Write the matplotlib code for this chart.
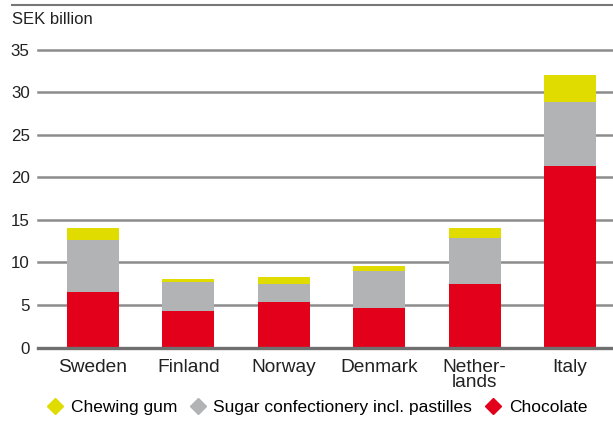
import matplotlib
matplotlib.use("Agg")
import matplotlib.pyplot as plt
from matplotlib.lines import Line2D

plt.rcParams['font.family'] = ['Liberation Sans', 'DejaVu Sans']

# Marknadsvärde per land, miljarder SEK
countries = ["Sweden", "Finland", "Norway", "Denmark", "Nether-\nlands", "Italy"]
chocolate = [6.5, 4.25, 5.4, 4.6, 7.5, 21.3]
sugar = [6.15, 3.4, 2.05, 4.35, 5.4, 7.5]
gum = [1.4, 0.45, 0.8, 0.6, 1.15, 3.25]

red = "#e2001a"
grey = "#b2b3b5"
yellow = "#e0dc00"

fig = plt.figure(figsize=(6.13, 4.21), dpi=100)
ax = fig.add_axes([38 / 613, 1 - 347.5 / 421, 1 - 38 / 613, 298 / 421])

x = range(len(countries))
bottom2 = [c + s for c, s in zip(chocolate, sugar)]
ax.bar(x, chocolate, width=0.545, color=red, zorder=3)
ax.bar(x, sugar, width=0.545, bottom=chocolate, color=grey, zorder=3)
ax.bar(x, gum, width=0.545, bottom=bottom2, color=yellow, zorder=3)

ax.set_ylim(0, 35)
ax.set_xlim(-0.577, 5.45)
ax.set_yticks(range(0, 36, 5))
for y in range(5, 36, 5):
    ax.axhline(y, color="#8c8c8c", lw=1.8, zorder=1, clip_on=False)
ax.axhline(0, color="#707070", lw=2.4, zorder=4, clip_on=False)

for s in ax.spines.values():
    s.set_visible(False)
ax.tick_params(axis="both", length=0, colors="#222222")
ax.tick_params(axis="y", pad=6, labelsize=12.2)
ax.tick_params(axis="x", pad=8.5, labelsize=13.8)
ax.set_xticks(list(x))
ax.set_xticklabels(countries, linespacing=0.85)

fig.text(12 / 613, 1 - 20 / 421, "SEK billion", fontsize=12, color="#222222", va="center")
fig.add_artist(Line2D([12 / 613, 1], [1 - 5 / 421, 1 - 5 / 421], color="#777777", lw=1.5))

handles = [
    Line2D([], [], marker="D", color=yellow, ls="none", markersize=8),
    Line2D([], [], marker="D", color=grey, ls="none", markersize=8),
    Line2D([], [], marker="D", color=red, ls="none", markersize=8),
]
fig.legend(handles, ["Chewing gum", "Sugar confectionery incl. pastilles", "Chocolate"],
           loc="center left", bbox_to_anchor=(48 / 613, 1 - 407 / 421), ncol=3,
           frameon=False, fontsize=12.5, handlelength=0.8, handletextpad=0.5,
           columnspacing=0.8, borderaxespad=0, borderpad=0)

fig.savefig("out.png", dpi=100)
